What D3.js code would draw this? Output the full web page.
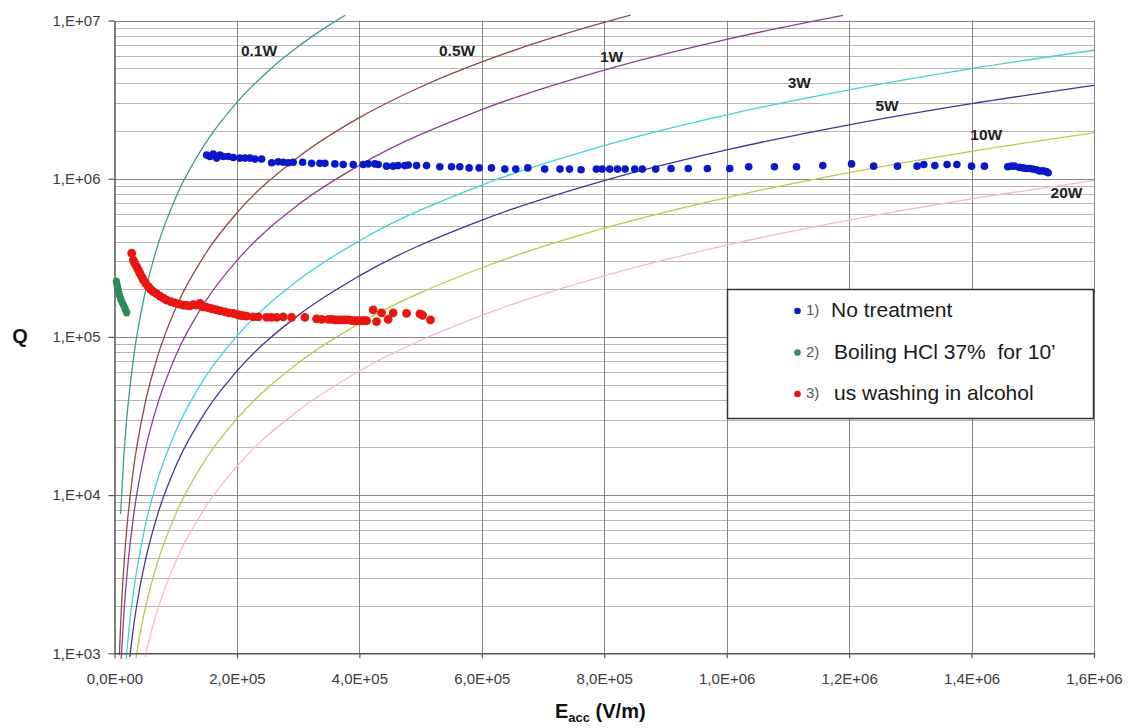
<!DOCTYPE html>
<html>
<head>
<meta charset="utf-8">
<script src="https://cdn.jsdelivr.net/npm/d3@7"></script>
<style>
  html, body { margin: 0; padding: 0; background: #ffffff; }
  svg { display: block; font-family: "Liberation Sans", Arial, sans-serif; }
</style>
</head>
<body>
<script>
// ---------------- DATA ----------------
const xTicks = [0, 2e5, 4e5, 6e5, 8e5, 1e6, 1.2e6, 1.4e6, 1.6e6];
const xTickLabels = ["0,0E+00", "2,0E+05", "4,0E+05", "6,0E+05", "8,0E+05", "1,0E+06", "1,2E+06", "1,4E+06", "1,6E+06"];
const yTicks = [1e3, 1e4, 1e5, 1e6, 1e7];
const yTickLabels = ["1,E+03", "1,E+04", "1,E+05", "1,E+06", "1,E+07"];

const powerLabels = ["0.1W", "0.5W", "1W", "3W", "5W", "10W", "20W"];

// iso-power curves, [E (V/m), Q]
const curve_0_1W = [[1e4, 7600], [1.5e4, 17100], [2e4, 30400], [3e4, 68400], [5e4, 190000], [7e4, 372400], [1e5, 760000], [1.5e5, 1.71e6], [2e5, 3.04e6], [2.5e5, 4.75e6], [3e5, 6.84e6], [3.5e5, 9.31e6], [3.77e5, 1.08e7]];
const curve_0_5W = [[8e3, 973], [1e4, 1520], [1.5e4, 3420], [2e4, 6080], [3e4, 13680], [5e4, 38000], [7e4, 74480], [1e5, 152000], [1.5e5, 342000], [2e5, 608000], [3e5, 1.368e6], [4e5, 2.432e6], [5e5, 3.8e6], [6e5, 5.472e6], [7e5, 7.448e6], [8e5, 9.728e6], [8.43e5, 1.08e7]];
const curve_1W = [[1.1e4, 920], [1.5e4, 1710], [2e4, 3040], [3e4, 6840], [5e4, 19000], [7e4, 37240], [1e5, 76000], [1.5e5, 171000], [2e5, 304000], [3e5, 684000], [4e5, 1.216e6], [6e5, 2.736e6], [8e5, 4.864e6], [1e6, 7.6e6], [1.19e6, 1.076e7]];
const curve_3W = [[1.9e4, 914], [2.5e4, 1583], [3e4, 2280], [5e4, 6333], [7e4, 12413], [1e5, 25333], [1.5e5, 57000], [2e5, 101333], [3e5, 228000], [4e5, 405333], [6e5, 912000], [8e5, 1.621e6], [1e6, 2.533e6], [1.2e6, 3.648e6], [1.4e6, 4.965e6], [1.6e6, 6.485e6]];
const curve_5W = [[2.5e4, 950], [3e4, 1368], [4e4, 2432], [5e4, 3800], [7e4, 7448], [1e5, 15200], [1.5e5, 34200], [2e5, 60800], [3e5, 136800], [4e5, 243200], [6e5, 547200], [8e5, 972800], [1e6, 1.52e6], [1.2e6, 2.189e6], [1.4e6, 2.979e6], [1.6e6, 3.891e6]];
const curve_10W = [[3.5e4, 931], [4e4, 1216], [5e4, 1900], [7e4, 3724], [1e5, 7600], [1.5e5, 17100], [2e5, 30400], [3e5, 68400], [4e5, 121600], [6e5, 273600], [8e5, 486400], [1e6, 760000], [1.2e6, 1.094e6], [1.4e6, 1.49e6], [1.6e6, 1.946e6]];
const curve_20W = [[5e4, 950], [6e4, 1368], [7e4, 1862], [1e5, 3800], [1.5e5, 8550], [2e5, 15200], [3e5, 34200], [4e5, 60800], [6e5, 136800], [8e5, 243200], [1e6, 380000], [1.2e6, 547200], [1.4e6, 744800], [1.6e6, 972800]];

// curve label anchors in data units [E, Q]
const powerLabelAnchors = [[2.065e5, 6.5e6], [5.30e5, 6.5e6], [7.93e5, 5.88e6], [1.0996e6, 4.03e6], [1.243e6, 2.88e6], [1.398e6, 1.89e6], [1.529e6, 8.12e5]];

// measured series
const seriesNames = ["No treatment", "Boiling HCl 37%  for 10\u2019", "us washing in alcohol"];
const seriesNumbers = ["1)", "2)", "3)"];

const noTreatment = [
  [1.505e5, 1.41e6], [1.559e5, 1.38e6], [1.613e5, 1.43e6], [1.669e5, 1.35e6], [1.722e5, 1.41e6], [1.776e5, 1.38e6],
  [1.858e5, 1.38e6], [1.940e5, 1.36e6], [2.049e5, 1.35e6], [2.131e5, 1.35e6], [2.212e5, 1.35e6], [2.294e5, 1.33e6],
  [2.403e5, 1.33e6], [2.567e5, 1.26e6], [2.674e5, 1.28e6], [2.756e5, 1.27e6], [2.838e5, 1.26e6], [2.919e5, 1.27e6],
  [3.073e5, 1.27e6], [3.220e5, 1.25e6], [3.355e5, 1.25e6], [3.437e5, 1.25e6], [3.600e5, 1.24e6], [3.736e5, 1.23e6],
  [3.899e5, 1.23e6], [4.062e5, 1.23e6], [4.144e5, 1.24e6], [4.253e5, 1.24e6], [4.307e5, 1.23e6], [4.444e5, 1.20e6],
  [4.552e5, 1.20e6], [4.633e5, 1.21e6], [4.743e5, 1.21e6], [4.797e5, 1.22e6], [4.934e5, 1.21e6], [5.097e5, 1.21e6],
  [5.314e5, 1.19e6], [5.505e5, 1.19e6], [5.641e5, 1.19e6], [5.793e5, 1.17e6], [5.956e5, 1.17e6], [6.158e5, 1.17e6],
  [6.376e5, 1.15e6], [6.555e5, 1.15e6], [6.751e5, 1.17e6], [7.027e5, 1.15e6], [7.277e5, 1.15e6], [7.433e5, 1.15e6],
  [7.621e5, 1.14e6], [7.871e5, 1.15e6], [7.966e5, 1.15e6], [8.090e5, 1.15e6], [8.216e5, 1.15e6], [8.341e5, 1.15e6],
  [8.498e5, 1.15e6], [8.622e5, 1.15e6], [8.841e5, 1.15e6], [9.091e5, 1.16e6], [9.373e5, 1.16e6], [9.685e5, 1.16e6],
  [1.005e6, 1.16e6], [1.036e6, 1.19e6], [1.078e6, 1.19e6], [1.114e6, 1.19e6], [1.157e6, 1.21e6], [1.204e6, 1.24e6],
  [1.240e6, 1.20e6], [1.279e6, 1.20e6], [1.311e6, 1.20e6], [1.322e6, 1.23e6], [1.340e6, 1.21e6], [1.360e6, 1.23e6],
  [1.376e6, 1.23e6], [1.400e6, 1.20e6], [1.421e6, 1.20e6], [1.459e6, 1.19e6], [1.465e6, 1.20e6], [1.470e6, 1.20e6],
  [1.478e6, 1.18e6], [1.484e6, 1.17e6], [1.489e6, 1.16e6], [1.495e6, 1.16e6], [1.500e6, 1.15e6], [1.506e6, 1.14e6],
  [1.511e6, 1.12e6], [1.517e6, 1.12e6], [1.522e6, 1.11e6], [1.525e6, 1.09e6]
];

const boilingHCl = [
  [3.0e3, 2.25e5], [3.6e3, 2.2e5], [4.2e3, 2.12e5], [5.0e3, 2.05e5], [6.0e3, 1.98e5], [7.0e3, 1.9e5],
  [8.0e3, 1.84e5], [9.5e3, 1.77e5], [1.1e4, 1.7e5], [1.3e4, 1.64e5], [1.5e4, 1.58e5], [1.7e4, 1.52e5],
  [1.85e4, 1.47e5], [2.0e4, 1.42e5]
];

const usWashing = [
  [2.81e4, 3.38e5], [3.07e4, 3.06e5], [3.3e4, 2.92e5], [3.62e4, 2.78e5], [3.9e4, 2.65e5], [4.16e4, 2.52e5],
  [4.45e4, 2.4e5], [4.70e4, 2.29e5], [5.1e4, 2.18e5], [5.52e4, 2.08e5], [5.9e4, 2.0e5], [6.33e4, 1.93e5],
  [6.9e4, 1.87e5], [7.43e4, 1.81e5], [8.0e4, 1.76e5], [8.52e4, 1.71e5], [9.2e4, 1.67e5], [9.88e4, 1.64e5],
  [1.06e5, 1.61e5], [1.123e5, 1.59e5], [1.18e5, 1.58e5], [1.233e5, 1.57e5], [1.29e5, 1.60e5], [1.342e5, 1.59e5],
  [1.396e5, 1.63e5], [1.42e5, 1.57e5], [1.450e5, 1.55e5], [1.50e5, 1.54e5], [1.559e5, 1.52e5], [1.61e5, 1.50e5],
  [1.669e5, 1.48e5], [1.73e5, 1.46e5], [1.804e5, 1.44e5], [1.87e5, 1.42e5], [1.940e5, 1.41e5], [2.0e5, 1.39e5],
  [2.049e5, 1.37e5], [2.10e5, 1.36e5], [2.158e5, 1.355e5], [2.266e5, 1.34e5], [2.348e5, 1.34e5], [2.485e5, 1.33e5],
  [2.56e5, 1.33e5], [2.648e5, 1.33e5], [2.756e5, 1.34e5], [2.893e5, 1.33e5], [3.110e5, 1.33e5], [3.30e5, 1.30e5],
  [3.383e5, 1.29e5], [3.491e5, 1.29e5], [3.55e5, 1.29e5], [3.600e5, 1.28e5], [3.65e5, 1.28e5], [3.709e5, 1.28e5],
  [3.76e5, 1.28e5], [3.817e5, 1.28e5], [3.87e5, 1.27e5], [3.927e5, 1.265e5], [3.98e5, 1.265e5], [4.036e5, 1.265e5],
  [4.08e5, 1.265e5], [4.118e5, 1.265e5], [4.225e5, 1.48e5], [4.281e5, 1.25e5], [4.362e5, 1.42e5], [4.470e5, 1.29e5],
  [4.552e5, 1.42e5], [4.771e5, 1.41e5], [4.988e5, 1.40e5], [5.032e5, 1.37e5], [5.162e5, 1.28e5]
];

// ---------------- DRAWING ----------------
const W = 1128, H = 728;
const x = d3.scaleLinear().domain([0, 1.6e6]).range([114.5, 1094]);
const y = d3.scaleLog().domain([1e3, 1e7]).range([653.3, 20.5]);

const svg = d3.select("body").append("svg").attr("width", W).attr("height", H);
svg.append("rect").attr("width", W).attr("height", H).attr("fill", "#ffffff");

// grid
const minorY = [];
for (let k = 3; k < 7; k++) for (let m = 2; m <= 9; m++) minorY.push(m * Math.pow(10, k));
const grid = svg.append("g");
grid.selectAll("line.minor").data(minorY).enter().append("line")
  .attr("x1", x(0)).attr("x2", x(1.6e6))
  .attr("y1", d => Math.round(y(d)) + 0.5).attr("y2", d => Math.round(y(d)) + 0.5)
  .attr("stroke", "#b8b8b8").attr("stroke-width", 1);
grid.selectAll("line.major").data(yTicks).enter().append("line")
  .attr("x1", x(0)).attr("x2", x(1.6e6))
  .attr("y1", d => Math.round(y(d)) + 0.5).attr("y2", d => Math.round(y(d)) + 0.5)
  .attr("stroke", "#858585").attr("stroke-width", 1);
grid.selectAll("line.vert").data(xTicks.slice(1)).enter().append("line")
  .attr("y1", y(1e7)).attr("y2", y(1e3))
  .attr("x1", d => Math.round(x(d)) + 0.5).attr("x2", d => Math.round(x(d)) + 0.5)
  .attr("stroke", "#858585").attr("stroke-width", 1);

// iso-power curves
const curves = [curve_0_1W, curve_0_5W, curve_1W, curve_3W, curve_5W, curve_10W, curve_20W];
const curveColors = ["#3a9a94", "#8e4a44", "#8e3e8e", "#3fd4d4", "#3a3a94", "#c4c44a", "#f2b8d8"];
const line = d3.line().x(d => x(d[0])).y(d => y(d[1])).curve(d3.curveMonotoneX);
svg.append("g").selectAll("path").data(curves).enter().append("path")
  .attr("d", line)
  .attr("fill", "none")
  .attr("stroke", (d, i) => curveColors[i])
  .attr("stroke-width", 1.3);

// curve labels
svg.append("g").selectAll("text").data(powerLabels).enter().append("text")
  .attr("x", (d, i) => x(powerLabelAnchors[i][0]))
  .attr("y", (d, i) => y(powerLabelAnchors[i][1]))
  .attr("dy", "0.35em")
  .attr("font-size", 15.5).attr("font-weight", "bold").attr("fill", "#222")
  .text(d => d);

// axes
const xAxis = d3.axisBottom(x).tickValues(xTicks).tickFormat((d, i) => xTickLabels[i]).tickSize(5).tickSizeOuter(0).tickPadding(15);
const yAxis = d3.axisLeft(y).tickValues(yTicks).tickFormat((d, i) => yTickLabels[i]).tickSize(6).tickSizeOuter(0).tickPadding(8);
const gx = svg.append("g").attr("transform", `translate(0,${y(1e3)})`).call(xAxis);
const gy = svg.append("g").attr("transform", `translate(${x(0)},0)`).call(yAxis);
[gx, gy].forEach(g => {
  g.select(".domain").attr("stroke", "#555").attr("stroke-width", 1.5);
  g.selectAll(".tick line").attr("stroke", "#555").attr("stroke-width", 1.2);
  g.selectAll(".tick text").attr("font-size", 15).attr("fill", "#3c3c3c")
    .attr("font-family", "'Liberation Sans', Arial, sans-serif");
});

// measured data
const seriesColors = ["#0b18c8", "#2e8b5e", "#e8160f"];
const seriesData = [noTreatment, boilingHCl, usWashing];
const seriesRadius = [3.8, 3.6, 4.4];
[2, 1, 0].forEach(si => {
  svg.append("g").selectAll("circle").data(seriesData[si]).enter().append("circle")
    .attr("cx", d => x(d[0])).attr("cy", d => y(d[1]))
    .attr("r", seriesRadius[si]).attr("fill", seriesColors[si]);
});

// legend
const lg = svg.append("g");
lg.append("rect").attr("x", 727.5).attr("y", 289.5).attr("width", 366).attr("height", 129)
  .attr("fill", "#ffffff").attr("stroke", "#333").attr("stroke-width", 1.5);
const rowY = [310, 351.5, 393];
seriesNames.forEach((name, i) => {
  lg.append("circle").attr("cx", 797.5).attr("cy", rowY[i] + 1).attr("r", 3.3).attr("fill", seriesColors[i]);
  lg.append("text").attr("x", 806).attr("y", rowY[i]).attr("dy", "0.36em")
    .attr("font-size", 15).attr("fill", "#555").text(seriesNumbers[i]);
  lg.append("text").attr("x", i === 0 ? 831 : 834).attr("y", rowY[i]).attr("dy", "0.35em")
    .attr("font-size", 21).attr("fill", "#1a1a1a").style("white-space", "pre").text(name);
});

// axis titles
svg.append("text").attr("x", 20).attr("y", 336).attr("dy", "0.35em").attr("text-anchor", "middle")
  .attr("font-size", 20).attr("font-weight", "bold").attr("fill", "#111").text("Q");
const xt = svg.append("text").attr("x", 555).attr("y", 718)
  .attr("font-size", 20).attr("font-weight", "bold").attr("fill", "#111");
xt.append("tspan").text("E");
xt.append("tspan").attr("font-size", 13).attr("dy", 4).text("acc");
xt.append("tspan").attr("dy", -4).text(" (V/m)");
</script>
</body>
</html>
